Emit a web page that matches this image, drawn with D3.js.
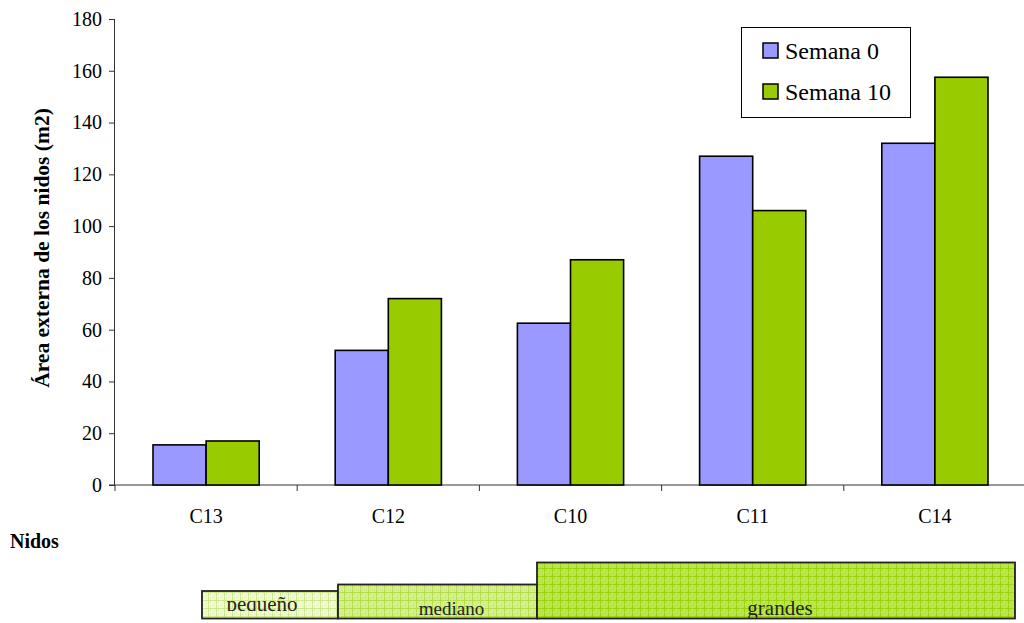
<!DOCTYPE html>
<html>
<head>
<meta charset="utf-8">
<script src="https://cdn.jsdelivr.net/npm/d3@7"></script>
<style>
  html, body { margin: 0; padding: 0; background: #fff; }
  svg { display: block; }
  svg text { font-family: "Liberation Serif", "Times New Roman", serif; }
</style>
</head>
<body>
<svg id="chart" width="1024" height="623"></svg>
<script>
// Nest categories and weekly external area values (m2)
const nidos = ["C13", "C12", "C10", "C11", "C14"];
const series = ["Semana 0", "Semana 10"];
const semana0 = [15.5, 52, 62.5, 127, 132];
const semana10 = [17, 72, 87, 106, 157.5];
const yTicks = [0, 20, 40, 60, 80, 100, 120, 140, 160, 180];
const colors = ["#9999ff", "#99cc00"];

// Size groups shown beneath the axis
const grupos = ["pequeño", "mediano", "grandes"];

const SERIF = "Liberation Serif";
const svg = d3.select("#chart");
const m = { left: 115, right: 1026, top: 19, bottom: 485 };

const x0 = d3.scaleBand().domain(nidos).range([m.left, m.right]).padding(0);
const x1 = d3.scaleBand().domain(series).range([38, x0.bandwidth() - 38]).padding(0);
const y = d3.scaleLinear().domain([0, 180]).range([m.bottom, m.top]);

// Fill patterns for the size boxes
const defs = svg.append("defs");
function pattern(id, bg, line, dot) {
  const p = defs.append("pattern").attr("id", id).attr("width", 8).attr("height", 8)
    .attr("patternUnits", "userSpaceOnUse");
  p.append("rect").attr("width", 8).attr("height", 8).attr("fill", bg);
  p.append("rect").attr("x", 0).attr("y", 0).attr("width", 8).attr("height", 1).attr("fill", line);
  p.append("rect").attr("x", 0).attr("y", 0).attr("width", 1).attr("height", 8).attr("fill", line);
  [[2, 2], [4, 4], [6, 2], [2, 6], [6, 6], [4, 0], [0, 4]].forEach(([a, b]) =>
    p.append("rect").attr("x", a).attr("y", b).attr("width", 1).attr("height", 1).attr("fill", dot));
}
pattern("pat-pequeno", "#f2f8dc", "#cce68a", "#dcefa8");
pattern("pat-mediano", "#d6ee96", "#b4dc48", "#c4e66e");
pattern("pat-grandes", "#bde35a", "#9ccf0c", "#ace032");

// Y axis
const yAxis = d3.axisLeft(y).tickValues(yTicks).tickSize(6).tickPadding(7);
const gy = svg.append("g").attr("transform", `translate(${m.left},0)`).call(yAxis)
  .attr("font-family", SERIF).attr("font-size", 20);
gy.select(".domain").attr("stroke", "#333").attr("d", `M-0.5,${m.top}V${m.bottom}`);
gy.selectAll(".tick line").attr("stroke", "#333");
gy.selectAll(".tick text").attr("font-size", 20).attr("font-family", SERIF).attr("fill", "#000");

// X axis with ticks at category boundaries
const gx = svg.append("g").attr("transform", `translate(0,${m.bottom})`);
gx.append("line").attr("x1", m.left - 6).attr("x2", 1024).attr("y1", 0).attr("y2", 0).attr("stroke", "#333");
gx.selectAll("line.tk").data(nidos).join("line").attr("class", "tk")
  .attr("x1", d => x0(d)).attr("x2", d => x0(d)).attr("y1", 0).attr("y2", 6).attr("stroke", "#333");
gx.selectAll("text").data(nidos).join("text")
  .attr("x", d => x0(d) + x0.bandwidth() / 2).attr("y", 38)
  .attr("text-anchor", "middle").attr("font-family", SERIF).attr("font-size", 20).text(d => d);

// Bars
const rows = nidos.map((n, i) => ({ n, vals: [semana0[i], semana10[i]] }));
const groups = svg.append("g").selectAll("g").data(rows).join("g")
  .attr("transform", d => `translate(${x0(d.n)},0)`);
groups.selectAll("rect").data(d => d.vals.map((v, j) => ({ s: series[j], v, j }))).join("rect")
  .attr("x", d => x1(d.s)).attr("width", x1.bandwidth())
  .attr("y", d => y(d.v)).attr("height", d => y(0) - y(d.v))
  .attr("fill", d => colors[d.j]).attr("stroke", "#000").attr("stroke-width", 1.6);

// Y axis title
svg.append("text").attr("transform", "translate(49,248) rotate(-90)")
  .attr("text-anchor", "middle").attr("font-family", SERIF).attr("font-size", 21.5).attr("font-weight", "bold")
  .text("Área externa de los nidos (m2)");

// Legend
const lg = svg.append("g");
lg.append("rect").attr("x", 741.5).attr("y", 27.5).attr("width", 169).attr("height", 90)
  .attr("fill", "#fff").attr("stroke", "#000").attr("stroke-width", 1);
series.forEach((s, i) => {
  const yy = 43 + i * 41;
  lg.append("rect").attr("x", 763).attr("y", yy).attr("width", 15).attr("height", 15)
    .attr("fill", colors[i]).attr("stroke", "#000").attr("stroke-width", 1.5);
  lg.append("text").attr("x", 785).attr("y", yy + 16).attr("font-family", SERIF).attr("font-size", 24).text(s);
});

// "Nidos" label
svg.append("text").attr("x", 10).attr("y", 548).attr("font-family", SERIF)
  .attr("font-size", 20).attr("font-weight", "bold").text("Nidos");

// Size group boxes
const boxX = [202, 338, 537];
const boxW = [136, 199, 478];
const boxTop = [591, 584.5, 562.5];
const boxBottom = 618.5;
const pats = ["pat-pequeno", "pat-mediano", "pat-grandes"];
const labelY = [611, 615, 615];
const labelDx = [-8, 14, 4];
const labelSize = [21, 19, 21];
const clipBottom = [611, 618, 618];
grupos.forEach((g, i) => {
  defs.append("clipPath").attr("id", "clip" + i).append("rect")
    .attr("x", boxX[i]).attr("y", boxTop[i]).attr("width", boxW[i]).attr("height", clipBottom[i] - boxTop[i]);
  svg.append("rect").attr("x", boxX[i]).attr("y", boxTop[i]).attr("width", boxW[i])
    .attr("height", boxBottom - boxTop[i]).attr("fill", `url(#${pats[i]})`)
    .attr("stroke", "#222").attr("stroke-width", 1.8);
  svg.append("text").attr("clip-path", `url(#clip${i})`)
    .attr("x", boxX[i] + boxW[i] / 2 + labelDx[i]).attr("y", labelY[i])
    .attr("text-anchor", "middle").attr("font-family", SERIF).attr("font-size", labelSize[i])
    .attr("fill", "#222").text(g);
});
</script>
</body>
</html>
